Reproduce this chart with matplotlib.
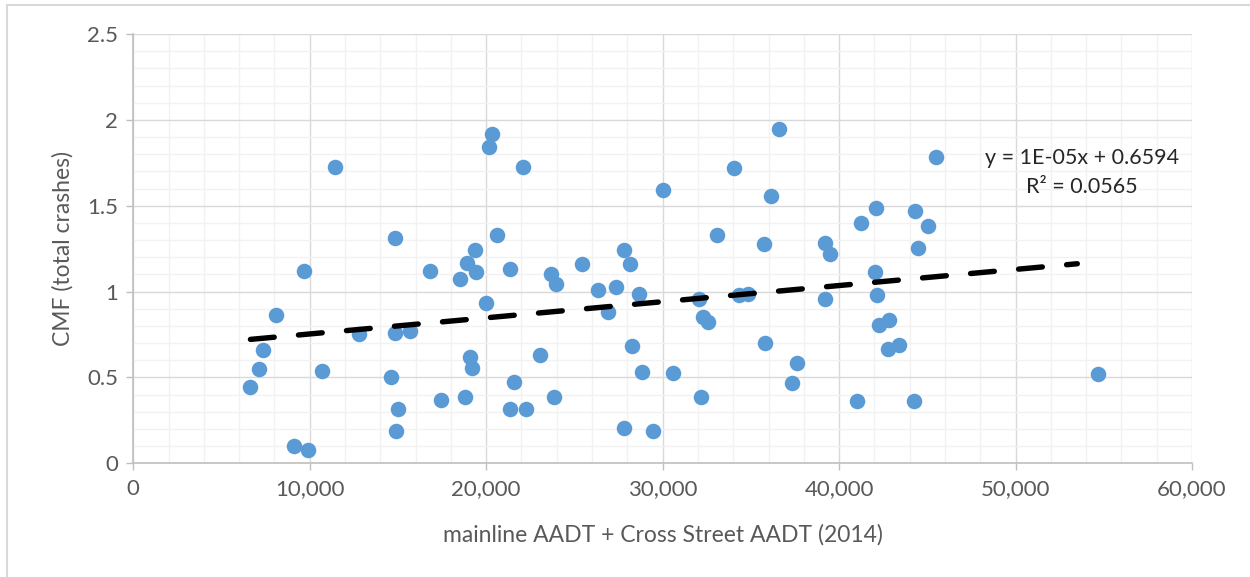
import numpy as np
import matplotlib.pyplot as plt
from matplotlib.ticker import MultipleLocator, FuncFormatter
from matplotlib.lines import Line2D

# combined AADT (x) and CMF for total crashes (y)
aadt = [
    11434, 14811, 9679, 16792, 8075, 7358, 7132, 6642, 9094, 9925,
    10679, 12792, 14811, 15660, 14623, 14981, 14906, 17434, 18811, 18509,
    18887, 19340, 19415, 19981, 20170, 20340, 20623, 22075, 21358, 19094,
    19170, 21566, 21358, 22283, 23068, 23864, 23655, 23939, 25455, 26345,
    27367, 26913, 27822, 28163, 28674, 28250, 28826, 27803, 29470, 30038,
    30568, 32083, 32273, 32557, 32159, 33106, 34053, 34356, 34848, 35720,
    36155, 36591, 35795, 37614, 37330, 39205, 39508, 39205, 41042, 41250,
    42064, 42008, 42121, 42254, 42841, 42765, 43371, 44242, 44318, 45038,
    44451, 45492, 54700,
]
cmf = [
    1.725, 1.314, 1.122, 1.122, 0.862, 0.659, 0.548, 0.444, 0.103, 0.078,
    0.535, 0.756, 0.760, 0.771, 0.504, 0.318, 0.190, 0.370, 0.386, 1.076,
    1.167, 1.240, 1.112, 0.934, 1.845, 1.919, 1.329, 1.725, 1.130, 0.618,
    0.556, 0.473, 0.318, 0.318, 0.632, 0.386, 1.105, 1.047, 1.159, 1.012,
    1.025, 0.882, 1.240, 1.159, 0.988, 0.682, 0.533, 0.205, 0.190, 1.589,
    0.527, 0.957, 0.853, 0.824, 0.384, 1.329, 1.717, 0.979, 0.988, 1.277,
    1.554, 1.948, 0.698, 0.587, 0.465, 1.283, 1.217, 0.957, 0.362, 1.397,
    1.486, 1.114, 0.981, 0.808, 0.837, 0.665, 0.692, 0.362, 1.471, 1.382,
    1.254, 1.785, 0.519,
]

# trendline as reported by Excel
slope = 9.4e-06
intercept = 0.6594

plt.rcParams['font.family'] = ['Lato', 'DejaVu Sans']

fig = plt.figure(figsize=(12.5, 5.77), dpi=100)
ax = fig.add_axes([0.1066, 0.197, 0.847, 0.744])

ax.scatter(aadt, cmf, s=125, color='#5B9BD5', zorder=3, linewidths=0)

xs = np.array([min(aadt), max(aadt) - 1200])
ax.plot(xs, slope * xs + intercept, color='black', lw=3.9,
        dashes=(4.4, 4.5), dash_capstyle='round', zorder=4)

ax.set_xlim(0, 60000)
ax.set_ylim(0, 2.5)
ax.xaxis.set_major_locator(MultipleLocator(10000))
ax.xaxis.set_minor_locator(MultipleLocator(2000))
ax.yaxis.set_major_locator(MultipleLocator(0.5))
ax.yaxis.set_minor_locator(MultipleLocator(0.1))
ax.xaxis.set_major_formatter(FuncFormatter(lambda v, p: f'{int(v):,}'))
ax.yaxis.set_major_formatter(FuncFormatter(lambda v, p: f'{v:g}'))

ax.grid(which='major', color='#D9D9D9', lw=1.0, zorder=0)
ax.grid(which='minor', color='#F2F2F2', lw=1.0, zorder=0)
ax.set_axisbelow(True)

for side in ['top', 'right']:
    ax.spines[side].set_visible(False)
for side in ['left', 'bottom']:
    ax.spines[side].set_color('#BFBFBF')
    ax.spines[side].set_linewidth(1.2)

ax.tick_params(which='major', length=5, width=1, color='#BFBFBF',
               labelcolor='#595959', labelsize=16, pad=6)
ax.tick_params(which='minor', length=0)

ax.set_xlabel('mainline AADT + Cross Street AADT (2014)', fontsize=16.5,
              color='#595959', labelpad=18)
ax.set_ylabel('CMF (total crashes)', fontsize=16.5, color='#595959',
              labelpad=10)

ax.text(53750, 1.78, 'y = 1E-05x + 0.6594', fontsize=15.5, color='#262626',
        ha='center', va='center')
ax.text(53750, 1.61, 'R² = 0.0565', fontsize=15.5, color='#262626',
        ha='center', va='center')

# chart area border (cropped at right/bottom)
fig.add_artist(Line2D([7 / 1250, 1], [1 - 5 / 577, 1 - 5 / 577],
                      color='#D9D9D9', lw=1.5, transform=fig.transFigure))
fig.add_artist(Line2D([7 / 1250, 7 / 1250], [0, 1 - 5 / 577],
                      color='#D9D9D9', lw=1.5, transform=fig.transFigure))

fig.savefig('out.png', dpi=100)
